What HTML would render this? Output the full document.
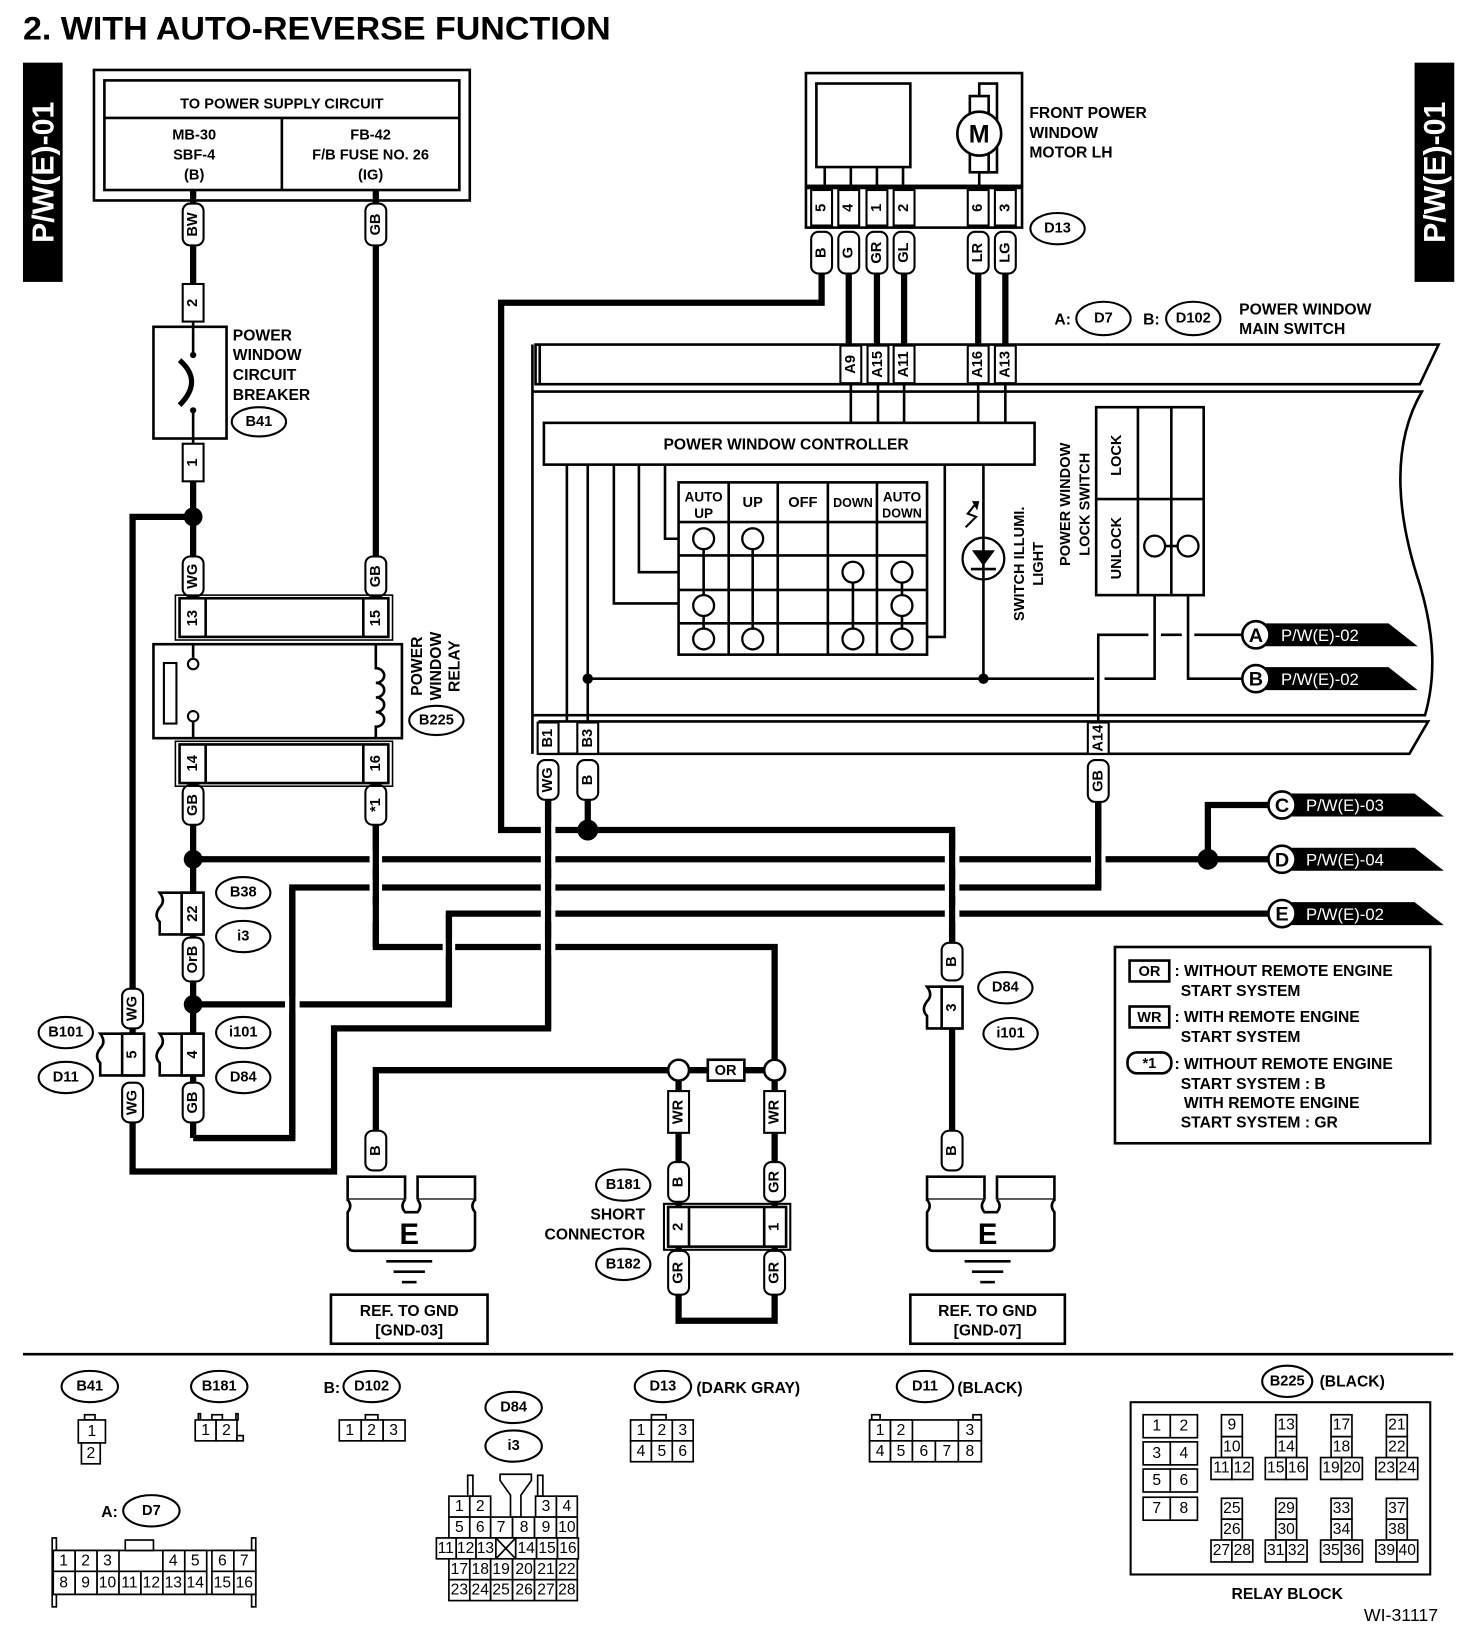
<!DOCTYPE html>
<html><head><meta charset="utf-8">
<style>
html,body{margin:0;padding:0;background:#fff;}
svg{display:block;}
text{font-family:"Liberation Sans",sans-serif;font-weight:bold;fill:#000;}
.wl rect{fill:#fff;stroke:#000;stroke-width:2;}
.c{text-anchor:middle;dominant-baseline:central;}
.t{font-size:15px;}
.s{font-size:14px;}
.o ellipse{fill:#fff;stroke:#000;stroke-width:2;}
.th{stroke:#000;stroke-width:6;fill:none;}
.tn{stroke:#000;stroke-width:2.5;fill:none;}
.bx{fill:#fff;stroke:#000;stroke-width:2.5;}
.cn rect{fill:#fff;stroke:#000;stroke-width:1.6;}
.cn text{font-weight:normal;font-size:15px;text-anchor:middle;dominant-baseline:central;}
.g{fill:#fff;}
</style></head>
<body>
<svg width="1472" height="1634" viewBox="0 0 1410 1565" preserveAspectRatio="none" xmlns="http://www.w3.org/2000/svg">
<rect width="1410" height="1565" fill="#fff"/>
<!-- Title -->
<text x="22" y="38" font-size="31" textLength="563" lengthAdjust="spacingAndGlyphs">2.  WITH AUTO-REVERSE FUNCTION</text>
<!-- Tabs -->
<rect x="22" y="60" width="38" height="210" fill="#000"/>
<text class="c" transform="translate(42,165) rotate(-90)" font-size="29" style="fill:#fff">P/W(E)-01</text>
<rect x="1355" y="60" width="38" height="210" fill="#000"/>
<text class="c" transform="translate(1375,165) rotate(-90)" font-size="29" style="fill:#fff">P/W(E)-01</text>

<!-- Power supply box -->
<rect x="90" y="67" width="360" height="125" class="bx"/>
<rect x="100" y="77" width="340" height="105" class="bx"/>
<line x1="100" y1="113" x2="440" y2="113" class="tn"/>
<line x1="270" y1="113" x2="270" y2="182" class="tn"/>
<text x="270" y="100" class="c s">TO POWER SUPPLY CIRCUIT</text>
<text x="186" y="130" class="c s">MB-30</text><text x="186" y="149" class="c s">SBF-4</text><text x="186" y="168" class="c s">(B)</text>
<text x="355" y="130" class="c s">FB-42</text><text x="355" y="149" class="c s">F/B FUSE NO. 26</text><text x="355" y="168" class="c s">(IG)</text>

<!-- Horizontal long wires -->
<g class="th">
<polyline points="787,262 787,290 480,290 480,795 912,795 912,905"/>
<line x1="185" y1="823" x2="1215" y2="823"/>
<polyline points="1157,823 1157,771 1215,771"/>
<polyline points="1052,768 1052,850 280,850 280,1090 185,1090"/>
<polyline points="1215,875 430,875 430,962 185,962"/>
<polyline points="360,790 360,907 742,907 742,1025"/>
<polyline points="525,765 525,985 320,985 320,1122 127,1122 127,1075"/>
<polyline points="360,1085 360,1025 742,1025"/>
<polyline points="650,1025 650,1265 742,1265 742,1025"/>
</g>
<!-- crossing gaps -->
<g class="g">
<rect x="354" y="815" width="12" height="16"/><rect x="354" y="842" width="12" height="16"/><rect x="354" y="867" width="12" height="16"/>
<rect x="518" y="787" width="14" height="16"/><rect x="518" y="815" width="14" height="16"/><rect x="518" y="842" width="14" height="16"/><rect x="518" y="867" width="14" height="16"/><rect x="518" y="899" width="14" height="16"/>
<rect x="424" y="899" width="12" height="16"/>
<rect x="273" y="954" width="14" height="16"/>
<rect x="905" y="815" width="14" height="16"/><rect x="905" y="842" width="14" height="16"/><rect x="905" y="867" width="14" height="16"/>
<rect x="1045" y="815" width="14" height="16"/>
</g>
<g class="th">
<line x1="360" y1="790" x2="360" y2="907"/>
<line x1="525" y1="765" x2="525" y2="985"/>
<line x1="430" y1="875" x2="430" y2="962"/>
<line x1="280" y1="850" x2="280" y2="1090"/>
<line x1="912" y1="795" x2="912" y2="905"/>
<line x1="1052" y1="768" x2="1052" y2="850"/>
<line x1="912" y1="985" x2="912" y2="1085"/>
<line x1="563" y1="765" x2="563" y2="795"/>
<line x1="185" y1="182" x2="185" y2="273"/>
<line x1="185" y1="460" x2="185" y2="573"/>
<line x1="360" y1="182" x2="360" y2="573"/>
<line x1="185" y1="750" x2="185" y2="1090"/>
<polyline points="185,495 127,495 127,990"/>
<line x1="813" y1="262" x2="813" y2="330"/><line x1="840" y1="262" x2="840" y2="330"/><line x1="866" y1="262" x2="866" y2="330"/>
<line x1="937" y1="262" x2="937" y2="330"/><line x1="963" y1="262" x2="963" y2="330"/>
</g>
<g fill="#000">
<circle cx="185" cy="495" r="9"/><circle cx="185" cy="823" r="9"/><circle cx="185" cy="962" r="9"/>
<circle cx="563" cy="795" r="10"/><circle cx="1157" cy="823" r="10"/>
</g>

<!-- Breaker -->
<g class="wl"><rect x="175" y="272" width="20" height="36" rx="0"/><text class="c s" transform="translate(185,290) rotate(-90)">2</text></g>
<rect x="147" y="313" width="70" height="107" class="bx"/>
<line x1="185" y1="308" x2="185" y2="340" class="tn"/>
<line x1="185" y1="393" x2="185" y2="425" class="tn"/>
<path d="M172,345 Q195,365 172,388" class="th" style="stroke-width:5"/>
<circle cx="185" cy="340" r="3" fill="#000"/><circle cx="185" cy="393" r="3" fill="#000"/>
<g class="wl"><rect x="175" y="425" width="20" height="36" rx="0"/><text class="c s" transform="translate(185,443) rotate(-90)">1</text></g>
<text x="223" y="326" class="t">POWER</text><text x="223" y="345" class="t">WINDOW</text><text x="223" y="364" class="t">CIRCUIT</text><text x="223" y="383" class="t">BREAKER</text>
<g class="o"><ellipse cx="248" cy="404" rx="26" ry="14"/><text x="248" y="404" class="c s">B41</text></g>

<!-- wire labels left -->
<g class="wl">
<rect x="175" y="195" width="20" height="40" rx="7"/><text class="c s" transform="translate(185,215) rotate(-90)">BW</text>
<rect x="350" y="195" width="20" height="40" rx="7"/><text class="c s" transform="translate(360,215) rotate(-90)">GB</text>
<rect x="175" y="533" width="20" height="38" rx="7"/><text class="c s" transform="translate(185,552) rotate(-90)">WG</text>
<rect x="350" y="533" width="20" height="38" rx="7"/><text class="c s" transform="translate(360,552) rotate(-90)">GB</text>
<rect x="175" y="752" width="20" height="38" rx="7"/><text class="c s" transform="translate(185,771) rotate(-90)">GB</text>
<rect x="350" y="752" width="20" height="38" rx="7"/><text class="c s" transform="translate(360,771) rotate(-90)">*1</text>
<rect x="175" y="898" width="20" height="42" rx="7"/><text class="c s" transform="translate(185,919) rotate(-90)">OrB</text>
<rect x="175" y="1037" width="20" height="38" rx="7"/><text class="c s" transform="translate(185,1056) rotate(-90)">GB</text>
<rect x="117" y="947" width="20" height="38" rx="7"/><text class="c s" transform="translate(127,966) rotate(-90)">WG</text>
<rect x="117" y="1037" width="20" height="38" rx="7"/><text class="c s" transform="translate(127,1056) rotate(-90)">WG</text>
</g>

<!-- Relay -->
<rect x="172" y="573" width="200" height="37" class="bx"/>
<rect x="168" y="570" width="208" height="43" fill="none" stroke="#000" stroke-width="1.5"/>
<line x1="197" y1="573" x2="197" y2="610" class="tn"/><line x1="348" y1="573" x2="348" y2="610" class="tn"/>
<text class="c s" transform="translate(185,592) rotate(-90)">13</text><text class="c s" transform="translate(360,592) rotate(-90)">15</text>
<rect x="147" y="617" width="238" height="90" class="bx"/>
<rect x="157" y="635" width="12" height="58" fill="none" stroke="#000" stroke-width="2"/>
<line x1="185" y1="617" x2="185" y2="630" class="tn"/><circle cx="185" cy="636" r="5" fill="#fff" stroke="#000" stroke-width="2"/>
<line x1="185" y1="707" x2="185" y2="692" class="tn"/><circle cx="185" cy="686" r="5" fill="#fff" stroke="#000" stroke-width="2"/>
<path d="M360,617 V640 a8,7 0 0 1 0,14 a8,7 0 0 1 0,14 a8,7 0 0 1 0,14 a8,7 0 0 1 0,14 V707" class="tn"/>
<rect x="172" y="713" width="200" height="37" class="bx"/>
<rect x="168" y="710" width="208" height="43" fill="none" stroke="#000" stroke-width="1.5"/>
<line x1="197" y1="713" x2="197" y2="750" class="tn"/><line x1="348" y1="713" x2="348" y2="750" class="tn"/>
<text class="c s" transform="translate(185,731) rotate(-90)">14</text><text class="c s" transform="translate(360,731) rotate(-90)">16</text>
<text class="c t" transform="translate(400,638) rotate(-90)">POWER</text>
<text class="c t" transform="translate(418,638) rotate(-90)">WINDOW</text>
<text class="c t" transform="translate(436,638) rotate(-90)">RELAY</text>
<g class="o"><ellipse cx="418" cy="690" rx="26" ry="14"/><text x="418" y="690" class="c s">B225</text></g>

<!-- connector 22 / 4 / 5 -->
<g>
<path d="M195,855 H153 q6,8 0,14 q-6,8 0,14 V895 H195" class="bx"/>
<rect x="174" y="855" width="21" height="40" class="bx"/>
<text class="c s" transform="translate(185,875) rotate(-90)">22</text>
<path d="M195,990 H153 q6,8 0,14 q-6,8 0,14 V1030 H195" class="bx"/>
<rect x="174" y="990" width="21" height="40" class="bx"/>
<text class="c s" transform="translate(185,1010) rotate(-90)">4</text>
<path d="M138,990 H96 q6,8 0,14 q-6,8 0,14 V1030 H138" class="bx"/>
<rect x="117" y="990" width="21" height="40" class="bx"/>
<text class="c s" transform="translate(127,1010) rotate(-90)">5</text>
</g>
<g class="o">
<ellipse cx="233" cy="855" rx="26" ry="15"/><text x="233" y="855" class="c s">B38</text>
<ellipse cx="233" cy="897" rx="26" ry="15"/><text x="233" y="897" class="c s">i3</text>
<ellipse cx="233" cy="989" rx="26" ry="15"/><text x="233" y="989" class="c s">i101</text>
<ellipse cx="233" cy="1032" rx="26" ry="15"/><text x="233" y="1032" class="c s">D84</text>
<ellipse cx="63" cy="989" rx="26" ry="15"/><text x="63" y="989" class="c s">B101</text>
<ellipse cx="63" cy="1032" rx="26" ry="15"/><text x="63" y="1032" class="c s">D11</text>
</g>

<!-- Motor -->
<rect x="772" y="70" width="207" height="108" class="bx"/>
<rect x="782" y="80" width="90" height="80" class="bx"/>
<line x1="790" y1="160" x2="790" y2="178" class="tn"/><line x1="815" y1="160" x2="815" y2="178" class="tn"/><line x1="840" y1="160" x2="840" y2="178" class="tn"/><line x1="865" y1="160" x2="865" y2="178" class="tn"/>
<polyline points="938,178 938,165 955,165 955,80 938,80 938,92" class="tn"/>
<rect x="929" y="92" width="18" height="73" class="bx"/>
<circle cx="938" cy="128" r="21" class="bx"/>
<text x="938" y="129" class="c" font-size="24">M</text>
<text x="986" y="113" class="t">FRONT POWER</text><text x="986" y="132" class="t">WINDOW</text><text x="986" y="151" class="t">MOTOR LH</text>
<rect x="772" y="180" width="207" height="38" class="bx"/>
<g class="wl">
<rect x="777" y="182" width="20" height="34"/><text class="c s" transform="translate(787,199) rotate(-90)">5</text>
<rect x="803" y="182" width="20" height="34"/><text class="c s" transform="translate(813,199) rotate(-90)">4</text>
<rect x="830" y="182" width="20" height="34"/><text class="c s" transform="translate(840,199) rotate(-90)">1</text>
<rect x="856" y="182" width="20" height="34"/><text class="c s" transform="translate(866,199) rotate(-90)">2</text>
<rect x="927" y="182" width="20" height="34"/><text class="c s" transform="translate(937,199) rotate(-90)">6</text>
<rect x="953" y="182" width="20" height="34"/><text class="c s" transform="translate(963,199) rotate(-90)">3</text>
<rect x="777" y="222" width="20" height="40" rx="7"/><text class="c s" transform="translate(787,242) rotate(-90)">B</text>
<rect x="803" y="222" width="20" height="40" rx="7"/><text class="c s" transform="translate(813,242) rotate(-90)">G</text>
<rect x="830" y="222" width="20" height="40" rx="7"/><text class="c s" transform="translate(840,242) rotate(-90)">GR</text>
<rect x="856" y="222" width="20" height="40" rx="7"/><text class="c s" transform="translate(866,242) rotate(-90)">GL</text>
<rect x="927" y="222" width="20" height="40" rx="7"/><text class="c s" transform="translate(937,242) rotate(-90)">LR</text>
<rect x="953" y="222" width="20" height="40" rx="7"/><text class="c s" transform="translate(963,242) rotate(-90)">LG</text>
</g>
<g class="o"><ellipse cx="1013" cy="219" rx="26" ry="15"/><text x="1013" y="219" class="c s">D13</text></g>

<!-- Main switch -->
<text x="1010" y="311" class="t">A:</text>
<g class="o"><ellipse cx="1057" cy="305" rx="26" ry="16"/><text x="1057" y="305" class="c s">D7</text>
<ellipse cx="1143" cy="305" rx="26" ry="16"/><text x="1143" y="305" class="c s">D102</text></g>
<text x="1095" y="311" class="t">B:</text>
<text x="1187" y="301" class="t">POWER WINDOW</text><text x="1187" y="320" class="t">MAIN SWITCH</text>
<path d="M513,330 H1378 L1360,368 H513 Z" fill="none" stroke="#000" stroke-width="2.5"/>
<line x1="510" y1="330" x2="510" y2="722" class="tn"/>
<line x1="517" y1="330" x2="517" y2="368" class="tn"/>
<path d="M510,375 H1362 C1330,430 1340,500 1360,560 C1375,610 1375,650 1365,685 H510" fill="none" stroke="#000" stroke-width="2.5"/>
<path d="M517,691 H1368 L1350,722 H517 Z" fill="none" stroke="#000" stroke-width="2.5"/>
<g class="wl">
<rect x="805" y="331" width="20" height="36"/><text class="c s" transform="translate(815,349) rotate(-90)">A9</text>
<rect x="831" y="331" width="20" height="36"/><text class="c s" transform="translate(841,349) rotate(-90)">A15</text>
<rect x="856" y="331" width="20" height="36"/><text class="c s" transform="translate(866,349) rotate(-90)">A11</text>
<rect x="927" y="331" width="20" height="36"/><text class="c s" transform="translate(937,349) rotate(-90)">A16</text>
<rect x="953" y="331" width="20" height="36"/><text class="c s" transform="translate(963,349) rotate(-90)">A13</text>
<rect x="515" y="692" width="20" height="30"/><text class="c s" transform="translate(525,707) rotate(-90)">B1</text>
<rect x="553" y="692" width="20" height="30"/><text class="c s" transform="translate(563,707) rotate(-90)">B3</text>
<rect x="1042" y="692" width="20" height="30"/><text class="c s" transform="translate(1052,707) rotate(-90)">A14</text>
<rect x="515" y="728" width="20" height="38" rx="7"/><text class="c s" transform="translate(525,747) rotate(-90)">WG</text>
<rect x="553" y="728" width="20" height="38" rx="7"/><text class="c s" transform="translate(563,747) rotate(-90)">B</text>
<rect x="1042" y="728" width="20" height="40" rx="7"/><text class="c s" transform="translate(1052,748) rotate(-90)">GB</text>
</g>
<g class="tn">
<line x1="815" y1="368" x2="815" y2="405"/><line x1="841" y1="368" x2="841" y2="405"/><line x1="866" y1="368" x2="866" y2="405"/>
<line x1="937" y1="368" x2="937" y2="405"/><line x1="963" y1="368" x2="963" y2="405"/>
</g>
<rect x="521" y="405" width="470" height="40" class="bx"/>
<text x="753" y="426" class="c t">POWER WINDOW CONTROLLER</text>
<g class="tn">
<line x1="543" y1="445" x2="543" y2="691"/>
<line x1="563" y1="445" x2="563" y2="691"/>
<polyline points="588,445 588,578 650,578"/>
<polyline points="612,445 612,548 650,548"/>
<polyline points="637,445 637,516 650,516"/>
<polyline points="888,610 905,610 905,445"/>
<line x1="942" y1="445" x2="942" y2="650"/>
<polyline points="563,650 1048,650"/><polyline points="1058,650 1106,650 1106,570"/>
<polyline points="1138,570 1138,650 1190,650"/>
<polyline points="1052,691 1052,608 1100,608"/><line x1="1112" y1="608" x2="1132" y2="608"/><line x1="1144" y1="608" x2="1190" y2="608"/>
</g>
<circle cx="563" cy="650" r="5" fill="#000"/><circle cx="942" cy="650" r="5" fill="#000"/>
<!-- grid -->
<rect x="650" y="462" width="238" height="165" class="bx"/>
<g class="tn">
<line x1="698" y1="462" x2="698" y2="627"/><line x1="745" y1="462" x2="745" y2="627"/><line x1="793" y1="462" x2="793" y2="627"/><line x1="840" y1="462" x2="840" y2="627"/>
<line x1="650" y1="500" x2="888" y2="500"/><line x1="650" y1="532" x2="888" y2="532"/><line x1="650" y1="565" x2="888" y2="565"/><line x1="650" y1="597" x2="888" y2="597"/>
<line x1="674" y1="516" x2="674" y2="612"/><line x1="721" y1="516" x2="721" y2="612"/><line x1="817" y1="548" x2="817" y2="612"/><line x1="864" y1="548" x2="864" y2="612"/>
</g>
<text x="674" y="476" class="c" font-size="13">AUTO</text><text x="674" y="492" class="c" font-size="13">UP</text>
<text x="721" y="482" class="c s">UP</text><text x="769" y="482" class="c s">OFF</text><text x="817" y="482" class="c" font-size="12">DOWN</text>
<text x="864" y="476" class="c" font-size="13">AUTO</text><text x="864" y="492" class="c" font-size="12">DOWN</text>
<g fill="#fff" stroke="#000" stroke-width="2.2">
<circle cx="674" cy="516" r="10"/><circle cx="721" cy="516" r="10"/>
<circle cx="817" cy="548" r="10"/><circle cx="864" cy="548" r="10"/>
<circle cx="674" cy="580" r="10"/><circle cx="864" cy="580" r="10"/>
<circle cx="674" cy="612" r="10"/><circle cx="721" cy="612" r="10"/><circle cx="817" cy="612" r="10"/><circle cx="864" cy="612" r="10"/>
</g>
<!-- diode -->
<circle cx="942" cy="535" r="20" fill="#fff" stroke="#000" stroke-width="2.2"/>
<line x1="942" y1="515" x2="942" y2="555" class="tn"/>
<polygon points="931,527 953,527 942,542" fill="#000"/>
<line x1="930" y1="545" x2="954" y2="545" class="tn"/>
<polyline points="925,505 935,495 927,492 935,482" fill="none" stroke="#000" stroke-width="2"/>
<polygon points="931,480 938,480 936,489" fill="#000"/>
<text class="c s" transform="translate(977,540) rotate(-90)">SWITCH ILLUMI.</text>
<text class="c s" transform="translate(995,540) rotate(-90)">LIGHT</text>
<text class="c s" transform="translate(1021,483) rotate(-90)">POWER WINDOW</text>
<text class="c s" transform="translate(1040,483) rotate(-90)">LOCK SWITCH</text>
<rect x="1050" y="390" width="103" height="180" class="bx"/>
<line x1="1090" y1="390" x2="1090" y2="570" class="tn"/><line x1="1122" y1="390" x2="1122" y2="570" class="tn"/>
<line x1="1050" y1="478" x2="1153" y2="478" class="tn"/>
<text class="c s" transform="translate(1070,436) rotate(-90)">LOCK</text>
<text class="c s" transform="translate(1070,525) rotate(-90)">UNLOCK</text>
<line x1="1106" y1="523" x2="1138" y2="523" class="tn"/>
<circle cx="1106" cy="523" r="10" fill="#fff" stroke="#000" stroke-width="2.2"/><circle cx="1138" cy="523" r="10" fill="#fff" stroke="#000" stroke-width="2.2"/>

<!-- off-page tags -->
<g>
<polygon points="1210,597 1330,597 1358,619 1210,619" fill="#000"/>
<circle cx="1203" cy="608" r="13" fill="#fff" stroke="#000" stroke-width="2.5"/><text x="1203" y="609" class="c" font-size="19">A</text>
<text x="1227" y="614" font-size="16" style="fill:#fff;font-weight:normal">P/W(E)-02</text>
<polygon points="1210,639 1330,639 1358,661 1210,661" fill="#000"/>
<circle cx="1203" cy="650" r="13" fill="#fff" stroke="#000" stroke-width="2.5"/><text x="1203" y="651" class="c" font-size="19">B</text>
<text x="1227" y="656" font-size="16" style="fill:#fff;font-weight:normal">P/W(E)-02</text>
<polygon points="1235,760 1355,760 1383,782 1235,782" fill="#000"/>
<circle cx="1228" cy="771" r="13" fill="#fff" stroke="#000" stroke-width="2.5"/><text x="1228" y="772" class="c" font-size="19">C</text>
<text x="1251" y="777" font-size="16" style="fill:#fff;font-weight:normal">P/W(E)-03</text>
<polygon points="1235,812 1355,812 1383,834 1235,834" fill="#000"/>
<circle cx="1228" cy="823" r="13" fill="#fff" stroke="#000" stroke-width="2.5"/><text x="1228" y="824" class="c" font-size="19">D</text>
<text x="1251" y="829" font-size="16" style="fill:#fff;font-weight:normal">P/W(E)-04</text>
<polygon points="1235,864 1355,864 1383,886 1235,886" fill="#000"/>
<circle cx="1228" cy="875" r="13" fill="#fff" stroke="#000" stroke-width="2.5"/><text x="1228" y="876" class="c" font-size="19">E</text>
<text x="1251" y="881" font-size="16" style="fill:#fff;font-weight:normal">P/W(E)-02</text>
</g>

<!-- D84 right connector -->
<g class="wl">
<rect x="902" y="903" width="20" height="36" rx="7"/><text class="c s" transform="translate(912,921) rotate(-90)">B</text>
</g>
<path d="M922,945 H888 q6,8 0,14 q-6,8 0,14 V985 H922" class="bx"/>
<rect x="902" y="945" width="20" height="40" class="bx"/>
<text class="c s" transform="translate(912,965) rotate(-90)">3</text>
<g class="o"><ellipse cx="963" cy="946" rx="26" ry="15"/><text x="963" y="946" class="c s">D84</text>
<ellipse cx="968" cy="990" rx="26" ry="15"/><text x="968" y="990" class="c s">i101</text></g>

<!-- OR junction & short connector -->
<circle cx="650" cy="1025" r="10" fill="#fff" stroke="#000" stroke-width="2.5"/>
<circle cx="742" cy="1025" r="10" fill="#fff" stroke="#000" stroke-width="2.5"/>
<rect x="678" y="1015" width="35" height="20" class="bx"/><text x="695" y="1026" class="c s">OR</text>
<g class="wl">
<rect x="640" y="1045" width="20" height="40"/><text class="c s" transform="translate(650,1065) rotate(-90)">WR</text>
<rect x="732" y="1045" width="20" height="40"/><text class="c s" transform="translate(742,1065) rotate(-90)">WR</text>
<rect x="640" y="1113" width="20" height="38" rx="7"/><text class="c s" transform="translate(650,1132) rotate(-90)">B</text>
<rect x="732" y="1113" width="20" height="38" rx="7"/><text class="c s" transform="translate(742,1132) rotate(-90)">GR</text>
<rect x="640" y="1198" width="20" height="42" rx="7"/><text class="c s" transform="translate(650,1219) rotate(-90)">GR</text>
<rect x="732" y="1198" width="20" height="42" rx="7"/><text class="c s" transform="translate(742,1219) rotate(-90)">GR</text>
<rect x="350" y="1083" width="20" height="38" rx="7"/><text class="c s" transform="translate(360,1102) rotate(-90)">B</text>
<rect x="902" y="1083" width="20" height="38" rx="7"/><text class="c s" transform="translate(912,1102) rotate(-90)">B</text>
</g>
<rect x="636" y="1153" width="121" height="44" fill="none" stroke="#000" stroke-width="2"/>
<rect x="640" y="1156" width="113" height="38" class="bx"/>
<line x1="660" y1="1156" x2="660" y2="1194" class="tn"/><line x1="732" y1="1156" x2="732" y2="1194" class="tn"/>
<text class="c s" transform="translate(650,1175) rotate(-90)">2</text><text class="c s" transform="translate(742,1175) rotate(-90)">1</text>
<g class="o"><ellipse cx="597" cy="1135" rx="26" ry="15"/><text x="597" y="1135" class="c s">B181</text>
<ellipse cx="597" cy="1211" rx="26" ry="15"/><text x="597" y="1211" class="c s">B182</text></g>
<text x="618" y="1168" class="t" text-anchor="end">SHORT</text>
<text x="618" y="1187" class="t" text-anchor="end">CONNECTOR</text>

<!-- Grounds -->
<g>
<rect x="333" y="1127" width="55" height="22" class="bx"/><rect x="400" y="1127" width="55" height="22" class="bx"/>
<path d="M333,1149 q5,6 0,12 V1192 q0,6 6,6 H449 q6,0 6,-6 V1161 q-5,-6 0,-12 M388,1149 q-5,6 0,12 H400 q5,-6 0,-12" class="bx"/>
<text x="392" y="1183" class="c" font-size="28">E</text>
<line x1="370" y1="1208" x2="414" y2="1208" class="tn"/><line x1="377" y1="1218" x2="407" y2="1218" class="tn"/><line x1="385" y1="1228" x2="399" y2="1228" class="tn"/>
<rect x="317" y="1240" width="150" height="47" class="bx"/>
<text x="392" y="1256" class="c t">REF. TO GND</text><text x="392" y="1275" class="c t">[GND-03]</text>
</g>
<g>
<rect x="888" y="1127" width="55" height="22" class="bx"/><rect x="955" y="1127" width="55" height="22" class="bx"/>
<path d="M888,1149 q5,6 0,12 V1192 q0,6 6,6 H1004 q6,0 6,-6 V1161 q-5,-6 0,-12 M943,1149 q-5,6 0,12 H955 q5,-6 0,-12" class="bx"/>
<text x="946" y="1183" class="c" font-size="28">E</text>
<line x1="924" y1="1208" x2="968" y2="1208" class="tn"/><line x1="931" y1="1218" x2="961" y2="1218" class="tn"/><line x1="939" y1="1228" x2="953" y2="1228" class="tn"/>
<rect x="872" y="1240" width="148" height="47" class="bx"/>
<text x="946" y="1256" class="c t">REF. TO GND</text><text x="946" y="1275" class="c t">[GND-07]</text>
</g>

<!-- Legend -->
<rect x="1068" y="907" width="302" height="188" class="bx"/>
<rect x="1082" y="920" width="38" height="20" class="bx"/><text x="1101" y="931" class="c s">OR</text>
<text x="1125" y="935" class="t">: WITHOUT REMOTE ENGINE</text><text x="1131" y="954" class="t">START SYSTEM</text>
<rect x="1082" y="964" width="38" height="20" class="bx"/><text x="1101" y="975" class="c s">WR</text>
<text x="1125" y="979" class="t">: WITH REMOTE ENGINE</text><text x="1131" y="998" class="t">START SYSTEM</text>
<rect x="1080" y="1008" width="42" height="20" rx="9" class="bx"/><text x="1101" y="1019" class="c s">*1</text>
<text x="1125" y="1024" class="t">: WITHOUT REMOTE ENGINE</text><text x="1131" y="1043" class="t">START SYSTEM  : B</text>
<text x="1134" y="1061" class="t">WITH REMOTE ENGINE</text><text x="1131" y="1080" class="t">START SYSTEM  : GR</text>

<!-- divider -->
<line x1="22" y1="1297" x2="1392" y2="1297" class="tn"/>

<!-- bottom connectors -->
<g class="o">
<ellipse cx="86" cy="1328" rx="27" ry="15"/><text x="86" y="1328" class="c s">B41</text>
<ellipse cx="210" cy="1328" rx="27" ry="15"/><text x="210" y="1328" class="c s">B181</text>
<ellipse cx="356" cy="1328" rx="27" ry="15"/><text x="356" y="1328" class="c s">D102</text>
<ellipse cx="492" cy="1348" rx="27" ry="15"/><text x="492" y="1348" class="c s">D84</text>
<ellipse cx="492" cy="1385" rx="27" ry="15"/><text x="492" y="1385" class="c s">i3</text>
<ellipse cx="145" cy="1447" rx="27" ry="15"/><text x="145" y="1447" class="c s">D7</text>
<ellipse cx="635" cy="1328" rx="27" ry="15"/><text x="635" y="1328" class="c s">D13</text>
<ellipse cx="886" cy="1328" rx="27" ry="15"/><text x="886" y="1328" class="c s">D11</text>
<ellipse cx="1233" cy="1323" rx="24" ry="15"/><text x="1233" y="1323" class="c s">B225</text>
</g>
<text x="310" y="1334" class="t">B:</text>
<text x="97" y="1453" class="t">A:</text>
<text x="667" y="1334" class="t">(DARK GRAY)</text>
<text x="917" y="1334" class="t">(BLACK)</text>
<text x="1264" y="1328" class="t">(BLACK)</text>
<g class="cn">
<rect x="81" y="1355" width="10" height="5"/>
<rect x="75" y="1360" width="26" height="22"/><text x="88" y="1371">1</text>
<rect x="78" y="1382" width="18" height="20"/><text x="87" y="1392">2</text>
<rect x="190" y="1354" width="2" height="6"/><rect x="203" y="1355" width="10" height="5"/><rect x="226" y="1354" width="2" height="6"/>
<rect x="187" y="1360" width="20" height="20"/><text x="197" y="1370">1</text>
<rect x="207" y="1360" width="20" height="20"/><text x="217" y="1370">2</text>
<rect x="227" y="1375" width="6" height="5"/>
<rect x="350" y="1355" width="12" height="5"/>
<rect x="325" y="1360" width="21" height="20"/><text x="335" y="1370">1</text>
<rect x="346" y="1360" width="21" height="20"/><text x="356" y="1370">2</text>
<rect x="367" y="1360" width="21" height="20"/><text x="377" y="1370">3</text>
<rect x="624" y="1355" width="14" height="5"/>
<rect x="604" y="1360" width="20" height="20"/><text x="614" y="1370">1</text>
<rect x="624" y="1360" width="20" height="20"/><text x="634" y="1370">2</text>
<rect x="644" y="1360" width="20" height="20"/><text x="654" y="1370">3</text>
<rect x="604" y="1380" width="20" height="20"/><text x="614" y="1390">4</text>
<rect x="624" y="1380" width="20" height="20"/><text x="634" y="1390">5</text>
<rect x="644" y="1380" width="20" height="20"/><text x="654" y="1390">6</text>
<rect x="835" y="1355" width="8" height="5"/><rect x="932" y="1355" width="8" height="5"/>
<rect x="833" y="1360" width="107" height="40"/>
<rect x="833" y="1360" width="20" height="20"/><text x="843" y="1370">1</text>
<rect x="853" y="1360" width="21" height="20"/><text x="863" y="1370">2</text>
<rect x="918" y="1360" width="22" height="20"/><text x="929" y="1370">3</text>
<rect x="833" y="1380" width="20" height="20"/><text x="843" y="1390">4</text>
<rect x="853" y="1380" width="21" height="20"/><text x="863" y="1390">5</text>
<rect x="874" y="1380" width="22" height="20"/><text x="885" y="1390">6</text>
<rect x="896" y="1380" width="22" height="20"/><text x="907" y="1390">7</text>
<rect x="918" y="1380" width="22" height="20"/><text x="929" y="1390">8</text>
<rect x="50" y="1473" width="4" height="12"/><rect x="241" y="1473" width="4" height="12"/>
<rect x="50" y="1527" width="4" height="12"/><rect x="241" y="1527" width="4" height="12"/>
<rect x="50" y="1485" width="195" height="42"/>
<rect x="120" y="1475" width="27" height="10"/>
<rect x="51" y="1485" width="21" height="20"/><text x="61" y="1495">1</text>
<rect x="72" y="1485" width="21" height="20"/><text x="82" y="1495">2</text>
<rect x="93" y="1485" width="21" height="20"/><text x="103" y="1495">3</text>
<rect x="156" y="1485" width="21" height="20"/><text x="166" y="1495">4</text>
<rect x="177" y="1485" width="21" height="20"/><text x="187" y="1495">5</text>
<rect x="203" y="1485" width="21" height="20"/><text x="213" y="1495">6</text>
<rect x="224" y="1485" width="21" height="20"/><text x="234" y="1495">7</text>
<rect x="51" y="1505" width="21" height="22"/><text x="61" y="1516">8</text>
<rect x="72" y="1505" width="21" height="22"/><text x="82" y="1516">9</text>
<rect x="93" y="1505" width="21" height="22"/><text x="103" y="1516">10</text>
<rect x="114" y="1505" width="21" height="22"/><text x="124" y="1516">11</text>
<rect x="135" y="1505" width="21" height="22"/><text x="145" y="1516">12</text>
<rect x="156" y="1505" width="21" height="22"/><text x="166" y="1516">13</text>
<rect x="177" y="1505" width="21" height="22"/><text x="187" y="1516">14</text>
<rect x="203" y="1505" width="21" height="22"/><text x="213" y="1516">15</text>
<rect x="224" y="1505" width="21" height="22"/><text x="234" y="1516">16</text>
<rect x="448" y="1413" width="5" height="20"/><rect x="515" y="1413" width="5" height="20"/>
<polygon points="479,1412 509,1412 509,1418 499,1432 499,1453 489,1453 489,1432 479,1418" fill="#fff" stroke="#000" stroke-width="1.6"/>
<rect x="430" y="1433" width="20" height="20"/><text x="440" y="1443">1</text>
<rect x="450" y="1433" width="20" height="20"/><text x="460" y="1443">2</text>
<rect x="513" y="1433" width="20" height="20"/><text x="523" y="1443">3</text>
<rect x="533" y="1433" width="20" height="20"/><text x="543" y="1443">4</text>
<rect x="430" y="1453" width="20" height="20"/><text x="440" y="1463">5</text>
<rect x="450" y="1453" width="20" height="20"/><text x="460" y="1463">6</text>
<rect x="470" y="1453" width="21" height="20"/><text x="480" y="1463">7</text>
<rect x="491" y="1453" width="21" height="20"/><text x="502" y="1463">8</text>
<rect x="512" y="1453" width="21" height="20"/><text x="523" y="1463">9</text>
<rect x="533" y="1453" width="20" height="20"/><text x="543" y="1463">10</text>
<rect x="418" y="1473" width="19" height="20"/><text x="427" y="1483">11</text>
<rect x="437" y="1473" width="19" height="20"/><text x="446" y="1483">12</text>
<rect x="456" y="1473" width="19" height="20"/><text x="465" y="1483">13</text>
<rect x="475" y="1473" width="19" height="20"/>
<rect x="494" y="1473" width="20" height="20"/><text x="504" y="1483">14</text>
<rect x="514" y="1473" width="20" height="20"/><text x="524" y="1483">15</text>
<rect x="534" y="1473" width="20" height="20"/><text x="544" y="1483">16</text>
<rect x="430" y="1493" width="20" height="20"/><text x="440" y="1503">17</text>
<rect x="450" y="1493" width="20" height="20"/><text x="460" y="1503">18</text>
<rect x="470" y="1493" width="21" height="20"/><text x="480" y="1503">19</text>
<rect x="491" y="1493" width="21" height="20"/><text x="502" y="1503">20</text>
<rect x="512" y="1493" width="21" height="20"/><text x="523" y="1503">21</text>
<rect x="533" y="1493" width="20" height="20"/><text x="543" y="1503">22</text>
<rect x="430" y="1513" width="20" height="20"/><text x="440" y="1523">23</text>
<rect x="450" y="1513" width="20" height="20"/><text x="460" y="1523">24</text>
<rect x="470" y="1513" width="21" height="20"/><text x="480" y="1523">25</text>
<rect x="491" y="1513" width="21" height="20"/><text x="502" y="1523">26</text>
<rect x="512" y="1513" width="21" height="20"/><text x="523" y="1523">27</text>
<rect x="533" y="1513" width="20" height="20"/><text x="543" y="1523">28</text>
</g>
<path d="M475,1473 L494,1493 M494,1473 L475,1493" stroke="#000" stroke-width="1.6"/>

<!-- Relay block -->
<rect x="1083" y="1343" width="287" height="165" fill="none" stroke="#000" stroke-width="2"/>
<g class="cn">
<rect x="1095" y="1355" width="26" height="22"/><text x="1108" y="1366">1</text><rect x="1121" y="1355" width="26" height="22"/><text x="1134" y="1366">2</text>
<rect x="1095" y="1381" width="26" height="22"/><text x="1108" y="1392">3</text><rect x="1121" y="1381" width="26" height="22"/><text x="1134" y="1392">4</text>
<rect x="1095" y="1407" width="26" height="22"/><text x="1108" y="1418">5</text><rect x="1121" y="1407" width="26" height="22"/><text x="1134" y="1418">6</text>
<rect x="1095" y="1434" width="26" height="22"/><text x="1108" y="1445">7</text><rect x="1121" y="1434" width="26" height="22"/><text x="1134" y="1445">8</text>
<rect x="1170" y="1355" width="20" height="21"/><text x="1180" y="1365">9</text>
<rect x="1170" y="1376" width="20" height="20"/><text x="1180" y="1386">10</text>
<rect x="1160" y="1396" width="20" height="21"/><text x="1170" y="1406">11</text><rect x="1180" y="1396" width="20" height="21"/><text x="1190" y="1406">12</text>
<rect x="1222" y="1355" width="20" height="21"/><text x="1232" y="1365">13</text>
<rect x="1222" y="1376" width="20" height="20"/><text x="1232" y="1386">14</text>
<rect x="1212" y="1396" width="20" height="21"/><text x="1222" y="1406">15</text><rect x="1232" y="1396" width="20" height="21"/><text x="1242" y="1406">16</text>
<rect x="1275" y="1355" width="20" height="21"/><text x="1285" y="1365">17</text>
<rect x="1275" y="1376" width="20" height="20"/><text x="1285" y="1386">18</text>
<rect x="1265" y="1396" width="20" height="21"/><text x="1275" y="1406">19</text><rect x="1285" y="1396" width="20" height="21"/><text x="1295" y="1406">20</text>
<rect x="1328" y="1355" width="20" height="21"/><text x="1338" y="1365">21</text>
<rect x="1328" y="1376" width="20" height="20"/><text x="1338" y="1386">22</text>
<rect x="1318" y="1396" width="20" height="21"/><text x="1328" y="1406">23</text><rect x="1338" y="1396" width="20" height="21"/><text x="1348" y="1406">24</text>
<rect x="1170" y="1435" width="20" height="20"/><text x="1180" y="1445">25</text>
<rect x="1170" y="1455" width="20" height="20"/><text x="1180" y="1465">26</text>
<rect x="1160" y="1475" width="20" height="21"/><text x="1170" y="1485">27</text><rect x="1180" y="1475" width="20" height="21"/><text x="1190" y="1485">28</text>
<rect x="1222" y="1435" width="20" height="20"/><text x="1232" y="1445">29</text>
<rect x="1222" y="1455" width="20" height="20"/><text x="1232" y="1465">30</text>
<rect x="1212" y="1475" width="20" height="21"/><text x="1222" y="1485">31</text><rect x="1232" y="1475" width="20" height="21"/><text x="1242" y="1485">32</text>
<rect x="1275" y="1435" width="20" height="20"/><text x="1285" y="1445">33</text>
<rect x="1275" y="1455" width="20" height="20"/><text x="1285" y="1465">34</text>
<rect x="1265" y="1475" width="20" height="21"/><text x="1275" y="1485">35</text><rect x="1285" y="1475" width="20" height="21"/><text x="1295" y="1485">36</text>
<rect x="1328" y="1435" width="20" height="20"/><text x="1338" y="1445">37</text>
<rect x="1328" y="1455" width="20" height="20"/><text x="1338" y="1465">38</text>
<rect x="1318" y="1475" width="20" height="21"/><text x="1328" y="1485">39</text><rect x="1338" y="1475" width="20" height="21"/><text x="1348" y="1485">40</text>
</g>
<text x="1233" y="1527" class="c t">RELAY BLOCK</text>
<text x="1342" y="1547" class="c" font-size="17" style="font-weight:normal">WI-31117</text>
</svg>
</body></html>
